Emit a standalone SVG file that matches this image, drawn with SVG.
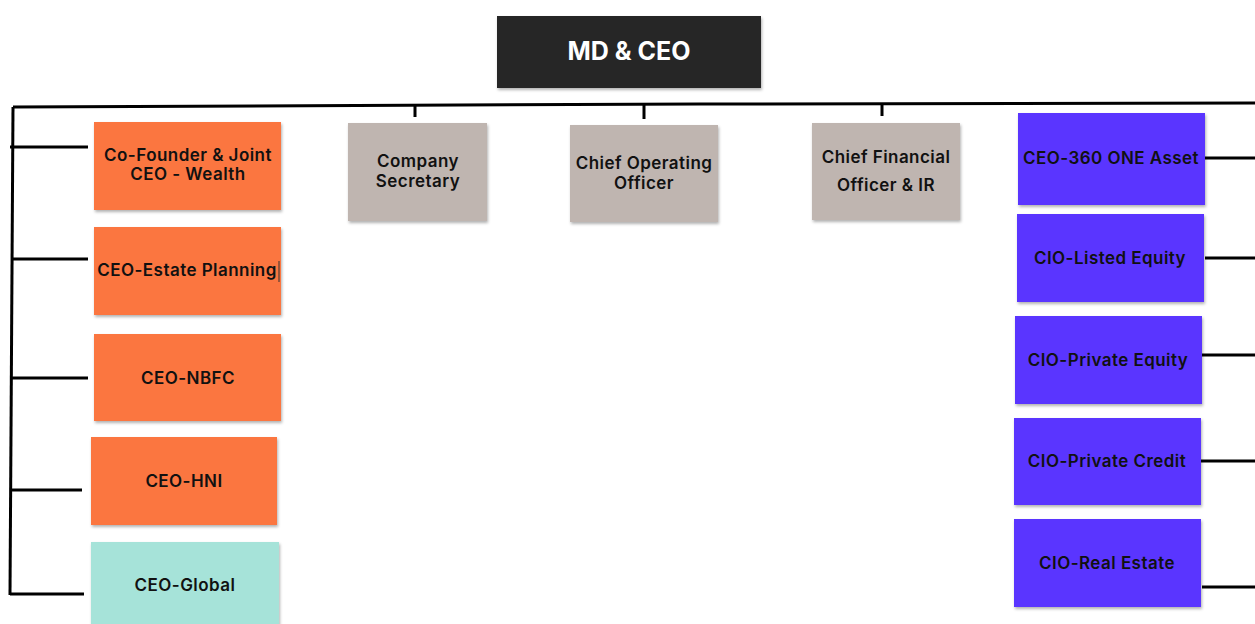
<svg xmlns="http://www.w3.org/2000/svg" width="1255" height="624" viewBox="0 0 1255 624">
<defs>
<filter id="sh" x="-10%" y="-10%" width="125%" height="125%">
<feDropShadow dx="1" dy="2" stdDeviation="1.5" flood-color="#000" flood-opacity="0.3"/>
</filter>
<style>
.box{filter:url(#sh)}
.or{fill:#FB7641}
.gr{fill:#BFB5B0}
.bl{fill:#5A35FF}
.tl{fill:#A6E3D9}
.t{font-family:Inter,"Liberation Sans",sans-serif;font-weight:600;font-size:17px;letter-spacing:0.45px;fill:#111;text-anchor:middle}
.w{font-family:Inter,"Liberation Sans",sans-serif;font-weight:700;font-size:25px;fill:#fff;text-anchor:middle}
.ln{stroke:#000;stroke-width:3;fill:none}
</style>
</defs>
<rect width="1255" height="624" fill="#fff"/>
<g id="connectors">
<path class="ln" d="M13 107 L700 104 L1255 103"/>
<path class="ln" d="M13 107 L10 595"/>
<path class="ln" d="M10 147 H88 M11 259 H88 M12 378 H88 M12 490 H82 M10 594 H84"/>
<path class="ln" d="M415 105 V117 M644 105 V119 M882 104 V116"/>
<path class="ln" d="M1204 158 H1255 M1205 258 H1255 M1200 355 H1255 M1201 461 H1255 M1202 587 H1255"/>
</g>
<g id="md-ceo"><rect class="box" x="497" y="16" width="264" height="72" fill="#262626"/><text class="w" x="629" y="60">MD &amp; CEO</text></g>
<g id="cofounder"><rect class="box or" x="94" y="122" width="187" height="88"/><text class="t" x="188" y="161">Co-Founder &amp; Joint</text><text class="t" x="188" y="180">CEO - Wealth</text></g>
<g id="estate"><rect class="box or" x="94" y="227" width="187" height="88"/><text class="t" x="187" y="276">CEO-Estate Planning</text><line x1="279" y1="261" x2="279" y2="282" stroke="#333" stroke-width="1"/></g>
<g id="nbfc"><rect class="box or" x="94" y="334" width="187" height="87"/><text class="t" x="188" y="384">CEO-NBFC</text></g>
<g id="hni"><rect class="box or" x="91" y="437" width="186" height="88"/><text class="t" x="184" y="487">CEO-HNI</text></g>
<g id="global"><rect class="box tl" x="91" y="542" width="188" height="90"/><text class="t" x="185" y="591">CEO-Global</text></g>
<g id="cs"><rect class="box gr" x="348" y="123" width="139" height="98"/><text class="t" x="418" y="167">Company</text><text class="t" x="418" y="187">Secretary</text></g>
<g id="coo"><rect class="box gr" x="570" y="125" width="148" height="97"/><text class="t" x="644" y="169">Chief Operating</text><text class="t" x="644" y="189">Officer</text></g>
<g id="cfo"><rect class="box gr" x="812" y="123" width="148" height="97"/><text class="t" x="886" y="163">Chief Financial</text><text class="t" x="886" y="191">Officer &amp; IR</text></g>
<g id="asset"><rect class="box bl" x="1018" y="113" width="187" height="92"/><text class="t" x="1111" y="164">CEO-360 ONE Asset</text></g>
<g id="listed"><rect class="box bl" x="1017" y="214" width="187" height="88"/><text class="t" x="1110" y="264">CIO-Listed Equity</text></g>
<g id="pe"><rect class="box bl" x="1015" y="316" width="187" height="88"/><text class="t" x="1108" y="366">CIO-Private Equity</text></g>
<g id="pc"><rect class="box bl" x="1014" y="418" width="187" height="87"/><text class="t" x="1107" y="467">CIO-Private Credit</text></g>
<g id="re"><rect class="box bl" x="1014" y="519" width="187" height="88"/><text class="t" x="1107" y="569">CIO-Real Estate</text></g>
</svg>
